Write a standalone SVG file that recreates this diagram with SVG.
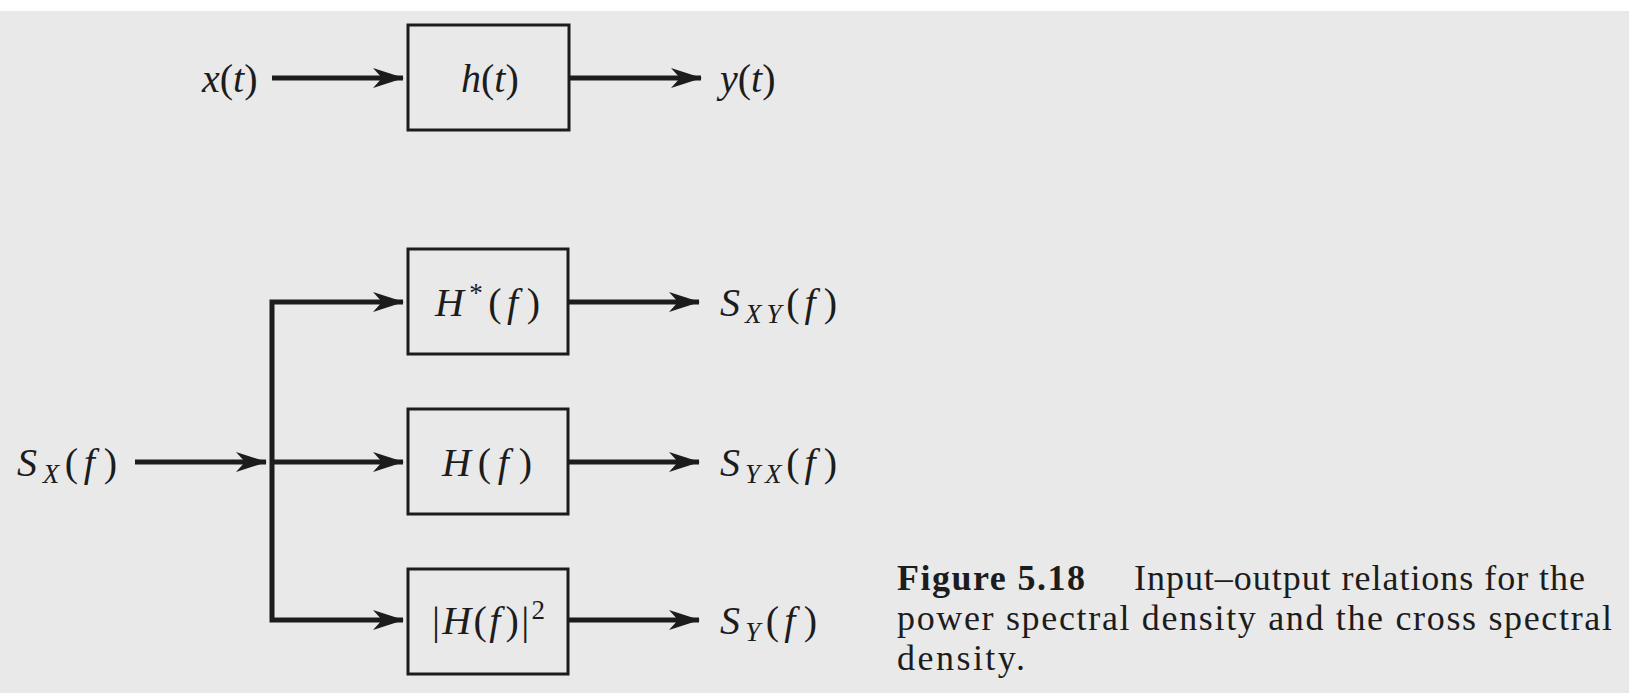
<svg xmlns="http://www.w3.org/2000/svg" width="1629" height="693" viewBox="0 0 1629 693">
<defs>
<style>
.bg{fill:#e9e9e9}
.box{fill:none;stroke:#1c1c1c;stroke-width:3}
.wire{fill:none;stroke:#1c1c1c;stroke-width:5;stroke-linejoin:miter;stroke-linecap:butt}
.lbl{font-family:"Liberation Serif","Times New Roman",serif;font-size:40px;fill:#1c1c1c}
.it{font-style:italic}
.sub{font-size:27px;font-style:italic}
.sup{font-size:27px}
.cap{font-family:"Liberation Serif","Times New Roman",serif;font-size:36px;fill:#1c1c1c}
.bold{font-weight:bold}
</style>
<marker id="ah" markerUnits="userSpaceOnUse" markerWidth="34" markerHeight="24" viewBox="-32 -12 34 24" refX="0" refY="0" orient="auto">
<path d="M1,0 L-30,-10 L-21,0 L-30,10 Z" fill="#1c1c1c"/>
</marker>
</defs>
<rect class="bg" x="0" y="0" width="1629" height="693"/>
<rect x="0" y="0" width="1629" height="11" fill="#ffffff"/>

<g id="connectors">
<path class="wire" d="M272,78 H403" marker-end="url(#ah)"/>
<path class="wire" d="M569,78 H701" marker-end="url(#ah)"/>
<path class="wire" d="M135,462 H266" marker-end="url(#ah)"/>
<path class="wire" d="M272,462 V302 H403" marker-end="url(#ah)"/>
<path class="wire" d="M272,462 H403" marker-end="url(#ah)"/>
<path class="wire" d="M272,462 V620 H403" marker-end="url(#ah)"/>
<path class="wire" d="M568,302 H699" marker-end="url(#ah)"/>
<path class="wire" d="M568,462 H699" marker-end="url(#ah)"/>
<path class="wire" d="M568,620 H699" marker-end="url(#ah)"/>
</g>

<g id="in-x">
<text class="lbl" x="202" y="92"><tspan class="it">x</tspan>(<tspan class="it">t</tspan>)</text>
</g>
<g id="box-h">
<rect class="box" x="408" y="25" width="161" height="105"/>
<text class="lbl" x="461" y="92"><tspan class="it">h</tspan>(<tspan class="it">t</tspan>)</text>
</g>
<g id="out-y">
<text class="lbl" x="720" y="92"><tspan class="it">y</tspan>(<tspan class="it">t</tspan>)</text>
</g>

<g id="in-sx">
<text class="lbl" x="17" y="476" textLength="100"><tspan class="it">S</tspan><tspan class="sub" dy="7">X</tspan><tspan dy="-7">(</tspan><tspan class="it">f</tspan><tspan dx="3">)</tspan></text>
</g>

<g id="box-hstar">
<rect class="box" x="408" y="249" width="160" height="105"/>
<text class="lbl" x="435" y="316" textLength="105"><tspan class="it">H</tspan><tspan class="sup" dy="-14">*</tspan><tspan dy="14">(</tspan><tspan class="it">f</tspan><tspan dx="3">)</tspan></text>
</g>
<g id="out-sxy">
<text class="lbl" x="720" y="316" textLength="117"><tspan class="it">S</tspan><tspan class="sub" dy="7">XY</tspan><tspan dy="-7">(</tspan><tspan class="it">f</tspan><tspan dx="3">)</tspan></text>
</g>

<g id="box-hf">
<rect class="box" x="408" y="409" width="160" height="105"/>
<text class="lbl" x="442" y="476" textLength="90"><tspan class="it">H</tspan>(<tspan class="it">f</tspan><tspan dx="3">)</tspan></text>
</g>
<g id="out-syx">
<text class="lbl" x="720" y="476" textLength="117"><tspan class="it">S</tspan><tspan class="sub" dy="7">YX</tspan><tspan dy="-7">(</tspan><tspan class="it">f</tspan><tspan dx="3">)</tspan></text>
</g>

<g id="box-hsq">
<rect class="box" x="408" y="569" width="160" height="105"/>
<text class="lbl" x="432" y="634" textLength="113">|<tspan class="it">H</tspan>(<tspan class="it">f</tspan><tspan dx="3">)|</tspan><tspan class="sup" dy="-15">2</tspan></text>
</g>
<g id="out-sy">
<text class="lbl" x="720" y="634" textLength="97"><tspan class="it">S</tspan><tspan class="sub" dy="7">Y</tspan><tspan dy="-7">(</tspan><tspan class="it">f</tspan><tspan dx="3">)</tspan></text>
</g>

<g id="caption">
<text class="cap bold" x="897" y="590" textLength="188">Figure 5.18</text>
<text class="cap" x="1134" y="590" textLength="451">Input–output relations for the</text>
<text class="cap" x="897" y="630" textLength="715">power spectral density and the cross spectral</text>
<text class="cap" x="897" y="670" textLength="128">density.</text>
</g>
</svg>
